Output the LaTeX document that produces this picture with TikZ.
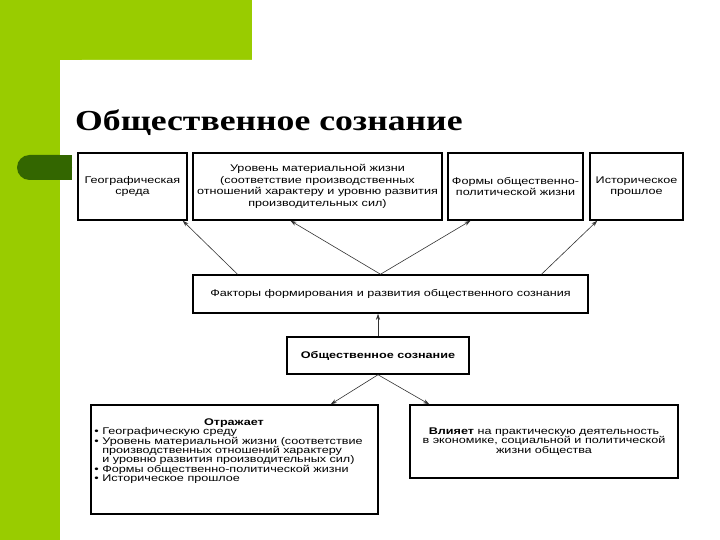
\documentclass[tikz,border=0pt]{standalone}
\usepackage{fontspec}
\setmainfont{Liberation Sans}
\newfontfamily\titlefont[FakeStretch=1.23]{Liberation Serif}
\newfontfamily\boxfont[FakeStretch=1.3]{Liberation Sans}
\usetikzlibrary{positioning, arrows.meta, calc}
\definecolor{slidegreen}{RGB}{153,204,0}
\definecolor{slidedark}{RGB}{51,102,0}
\newcommand{\boxtext}{\boxfont\fontsize{9.7}{9.4}\selectfont}
\newcommand{\toptext}{\boxfont\fontsize{9.7}{11.4}\selectfont}

\begin{document}
\begin{tikzpicture}[x=1pt, y=-1pt,
      fbox/.style={rectangle, draw=black, line width=1.5pt, fill=white, align=center,
                   inner sep=0pt, font=\boxtext},
      tbox/.style={fbox, minimum height=67pt, font=\toptext},
      arr/.style={-{Stealth[length=6pt, width=4pt]}, line width=0.6pt, black!80}]
    \useasboundingbox (0,0) rectangle (720,540);
    \fill[white] (0,0) rectangle (720,540);
    \fill[slidegreen] (0,0) rectangle (252,60);
    \fill[slidegreen] (0,0) rectangle (60,540);
    \fill[white, rounded corners=22pt] (60,60) rectangle (760,580);
    \fill[slidedark, rounded corners=12.5pt] (17,155) rectangle (72,180);
    \fill[slidedark] (45,155) rectangle (72,180);
    \node[anchor=base west, inner sep=0pt, font=\titlefont\fontsize{29}{34}\selectfont\bfseries]
      (title) at (75,131) {Общественное сознание};
    \node[tbox, minimum width=109pt] (geo) at (132.5,186.5)
      {Географическая\\среда};
    \node[tbox, minimum width=249pt] (lvl) at (317.5,186.5)
      {Уровень материальной жизни\\(соответствие производственных\\отношений характеру и уровню развития\\производительных сил)};
    \node[tbox, minimum width=135pt] (forms) at (515.5,186.5)
      {Формы общественно-\\политической жизни};
    \node[tbox, minimum width=93pt] (hist) at (636.5,186.5)
      {Историческое\\прошлое};
    \node[fbox, minimum width=395pt, minimum height=38pt] (factors) at (390.5,294)
      {Факторы формирования и развития общественного сознания};
    \node[fbox, minimum width=182pt, minimum height=37pt, font=\boxtext\bfseries] (consc) at (378,355.5)
      {Общественное сознание};
    \node[fbox, minimum width=287pt, minimum height=109pt] (refl) at (234.5,459.5) {};
    \node[anchor=north west, inner sep=0pt, align=left, font=\boxtext] (refltext)
      at ([shift={(4,14)}]refl.north west)
      {\makebox[279pt][c]{\textbf{Отражает}}\\
       • Географическую среду\\
       • Уровень материальной жизни (соответствие\\
       \phantom{• }производственных отношений характеру\\
       \phantom{• }и уровню развития производительных сил)\\
       • Формы общественно-политической жизни\\
       • Историческое прошлое};
    \node[fbox, minimum width=268pt, minimum height=73pt] (infl) at (544,441.5)
      {\textbf{Влияет} на практическую деятельность\\в экономике, социальной и политической\\жизни общества};
    \draw[arr] ([xshift=-153pt]factors.north) -- ([xshift=-5pt]geo.south east);
    \draw[arr] ([xshift=-10pt]factors.north) -- ([xshift=-27pt]lvl.south);
    \draw[arr] ([xshift=-10pt]factors.north) -- ([xshift=-45pt]forms.south);
    \draw[arr] ([xshift=151pt]factors.north) -- ([xshift=8pt]hist.south west);
    \draw[arr] (consc.north) -- (consc.north |- factors.south);
    \draw[arr] (consc.south) -- ([xshift=-48pt]refl.north east);
    \draw[arr] (consc.south) -- ([xshift=20pt]infl.north west);
  \end{tikzpicture}
\end{document}
